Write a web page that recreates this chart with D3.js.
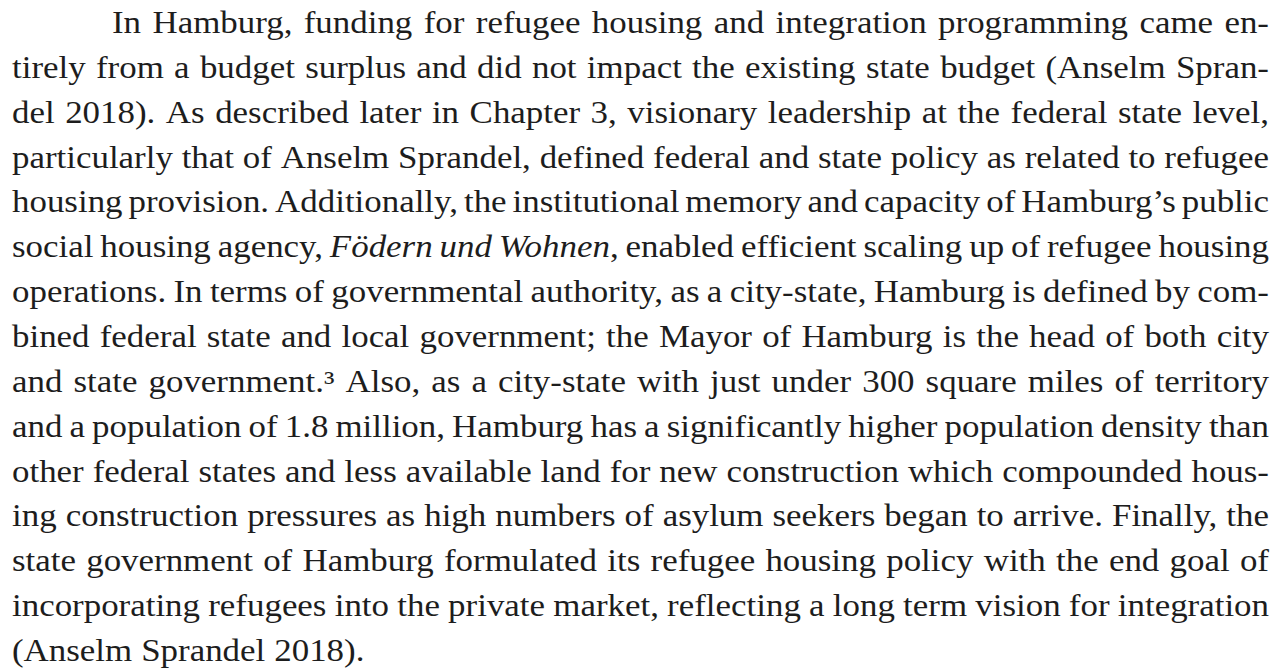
<!DOCTYPE html>
<html>
<head>
<meta charset="utf-8">
<script src="https://cdn.jsdelivr.net/npm/d3@7"></script>
<style>
  html, body { margin: 0; padding: 0; background: #fff; }
  svg { display: block; }
</style>
</head>
<body>
<svg id="page" width="1286" height="668"></svg>
<script>
// text lines as set in the scan, "_" toggles italic
var lines = [
  "In Hamburg, funding for refugee housing and integration programming came en-",
  "tirely from a budget surplus and did not impact the existing state budget (Anselm Spran-",
  "del 2018). As described later in Chapter 3, visionary leadership at the federal state level,",
  "particularly that of Anselm Sprandel, defined federal and state policy as related to refugee",
  "housing provision. Additionally, the institutional memory and capacity of Hamburg\u2019s public",
  "social housing agency, _F\u00f6dern und Wohnen_, enabled efficient scaling up of refugee housing",
  "operations. In terms of governmental authority, as a city-state, Hamburg is defined by com-",
  "bined federal state and local government; the Mayor of Hamburg is the head of both city",
  "and state government.\u00b3 Also, as a city-state with just under 300 square miles of territory",
  "and a population of 1.8 million, Hamburg has a significantly higher population density than",
  "other federal states and less available land for new construction which compounded hous-",
  "ing construction pressures as high numbers of asylum seekers began to arrive. Finally, the",
  "state government of Hamburg formulated its refugee housing policy with the end goal of",
  "incorporating refugees into the private market, reflecting a long term vision for integration",
  "(Anselm Sprandel 2018)."
];
var indentLines = [0];
var raggedLines = [14];

(function () {
  var svg = d3.select("#page");
  var left = 12, right = 1269, indent = 100;
  var fontSize = 31;
  var wordGap = 9; // typical space in the scan

  var y = d3.scaleLinear()
    .domain([0, lines.length - 1])
    .range([33, 661]);

  // split a line into words, each word into styled pieces
  var italic = false;
  var parsed = lines.map(function (line) {
    return line.split(" ").map(function (w) {
      var pieces = [];
      w.split("_").forEach(function (p, k) {
        if (k > 0) italic = !italic;
        if (p.length) pieces.push({ t: p, it: italic });
      });
      return pieces;
    });
  });

  var g = svg.append("g")
    .attr("font-family", "'Liberation Serif', 'Times New Roman', serif")
    .attr("font-size", fontSize)
    .attr("fill", "#1d1d1d");

  var rows = parsed.map(function (words, i) {
    var row = g.append("g").attr("class", "line");
    var texts = words.map(function (pieces) {
      var t = row.append("text").attr("y", y(i));
      pieces.forEach(function (pc) {
        t.append("tspan")
          .attr("font-style", pc.it ? "italic" : null)
          .text(pc.t);
      });
      return t;
    });
    var widths = texts.map(function (t) { return t.node().getComputedTextLength(); });
    var x0 = indentLines.indexOf(i) >= 0 ? left + indent : left;
    return { i: i, texts: texts, widths: widths, x0: x0, total: d3.sum(widths) };
  });

  // the scan's face is wider than Times: find a common horizontal stretch
  var factors = rows.filter(function (r) { return raggedLines.indexOf(r.i) < 0; })
    .map(function (r) {
      return (right - r.x0 - (r.texts.length - 1) * wordGap) / r.total;
    });
  var stretch = d3.median(factors);

  rows.forEach(function (r) {
    var n = r.texts.length;
    var f = stretch;
    var gap = wordGap;
    if (raggedLines.indexOf(r.i) < 0 && n > 1) {
      gap = (right - r.x0 - f * r.total) / (n - 1);
      if (gap < wordGap * 0.6) {
        gap = wordGap * 0.6;
        f = (right - r.x0 - (n - 1) * gap) / r.total;
      }
    }
    var x = r.x0;
    r.texts.forEach(function (t, k) {
      var w = r.widths[k] * f;
      t.attr("x", x)
        .attr("textLength", w)
        .attr("lengthAdjust", "spacingAndGlyphs");
      x += w + gap;
    });
  });
})();
</script>
</body>
</html>
